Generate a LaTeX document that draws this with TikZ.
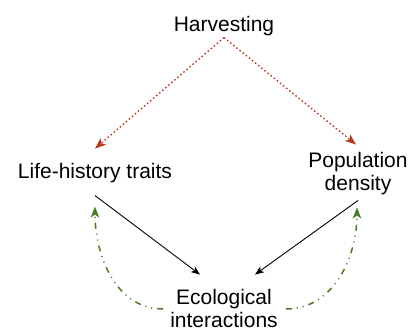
\documentclass[tikz,border=0pt]{standalone}
\usepackage{fontspec}
\setmainfont{Liberation Sans}
\usetikzlibrary{arrows.meta}
\definecolor{harvred}{HTML}{B83A1E}
\definecolor{ecogreen}{HTML}{4A7A23}
\begin{document}
\begin{tikzpicture}[x=1bp, y=-1bp, >={Stealth[length=11bp, width=8.5bp, inset=3bp]},
    lbl/.style={inner sep=2bp, align=center, font=\fontsize{21bp}{23bp}\selectfont},
    harvest/.style={->, harvred, line width=1.4bp, dash pattern=on 1.5bp off 2.5bp},
    effect/.style={->, black, line width=0.9bp, >={Stealth[length=9bp, width=7bp, inset=2.5bp]}},
    feedback/.style={->, ecogreen, line width=1.5bp, dash pattern=on 6bp off 5bp on 1bp off 5bp on 1bp off 5bp}]
        \useasboundingbox (0,0) rectangle (411,330);
        % Nodes
        \node[lbl, anchor=base] (harv) at (224,31) {Harvesting};
        \node[lbl, anchor=base] (life) at (95,178) {Life-history traits};
        \node[lbl, anchor=center] (pop) at (358,174) {Population\\density};
        \node[lbl, anchor=center] (eco) at (224,308) {Ecological\\interactions};
        % Harvesting arrows
        \draw[harvest] (harv.south) -- ([yshift=12bp]life.north);
        \draw[harvest] (harv.south) -- ([xshift=-2bp, yshift=6bp]pop.north);
        % Arrows into ecological interactions
        \draw[effect] ([yshift=-11bp]life.south) -- ([xshift=-24bp, yshift=12bp]eco.north);
        \draw[effect] ([yshift=-3bp]pop.south) -- ([xshift=31bp, yshift=12bp]eco.north);
        % Feedback arrows
        \draw[feedback] ([xshift=-5bp, yshift=-1bp]eco.west) to[out=180, in=-90] ([yshift=-22bp]life.south);
        \draw[feedback] ([xshift=6bp, yshift=-1bp]eco.east) to[out=0, in=-90] ([xshift=-1bp, yshift=-10bp]pop.south);
\end{tikzpicture}
\end{document}
